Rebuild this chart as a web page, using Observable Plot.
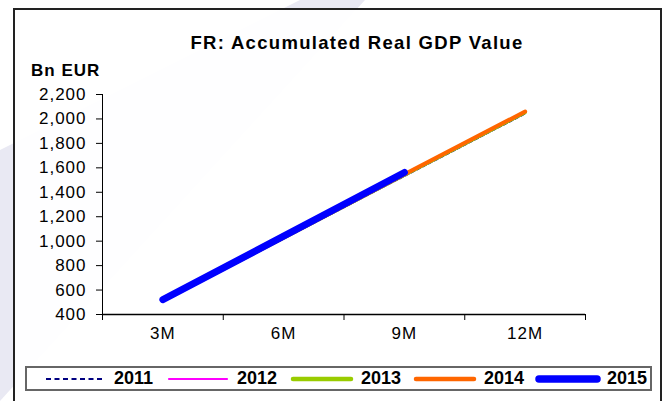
<!DOCTYPE html>
<html>
<head>
<meta charset="utf-8">
<script src="https://cdn.jsdelivr.net/npm/d3@7"></script>
<script src="https://cdn.jsdelivr.net/npm/@observablehq/plot@0.6"></script>
<style>
  html, body { margin: 0; padding: 0; width: 669px; height: 401px; overflow: hidden; background: #ffffff; font-family: "Liberation Sans", Arial, sans-serif; }
  #wm { position: absolute; left: 0; top: 0; width: 669px; height: 401px; background: #e9e9f3;
        clip-path: polygon(300px 0, 365px 0, 0 401px, 0 150px); }
  #frame { position: absolute; left: 13px; top: 8px; width: 649px; height: 400px; border: 2px solid #222; border-bottom: none; background: rgba(255,255,255,0.94); box-sizing: border-box; }
  #title { position: absolute; left: 0; top: 32px; width: 714px; text-align: center; font-weight: bold; font-size: 18.5px; letter-spacing: 1.3px; color: #000; }
  #unit { position: absolute; left: 31px; top: 61px; font-weight: bold; font-size: 17px; letter-spacing: 1px; color: #000; }
  #chart { position: absolute; left: 0; top: 80px; }
  #legend { position: absolute; left: 25px; top: 366px; width: 627px; height: 25px; border: 2px solid #666; box-sizing: border-box; font-weight: bold; font-size: 18px; }
  .item { position: absolute; top: 0; height: 21px; display: flex; align-items: center; }
  .item svg { margin-right: 6px; }
</style>
</head>
<body>
<div id="wm"></div>
<div id="frame"></div>
<div id="title">FR: Accumulated Real GDP Value</div>
<div id="unit">Bn EUR</div>
<div id="chart"></div>
<div id="legend"></div>
<script>
const categories = ["3M", "6M", "9M", "12M"];
const yTicks = [400, 600, 800, 1000, 1200, 1400, 1600, 1800, 2000, 2200];
const years = ["2011", "2012", "2013", "2014", "2015"];
const v2011 = [510, 1020, 1531, 2042];
const v2012 = [512, 1024, 1536, 2049];
const v2013 = [513, 1027, 1541, 2054];
const v2014 = [515, 1031, 1547, 2061];
const v2015 = [521, 1041, 1562];

const values = [v2011, v2012, v2013, v2014, v2015];
const styles = [
  {stroke: "#000080", width: 1.5, dash: "4,2.5", lw: 2.2},
  {stroke: "#ff00ff", width: 1.5, dash: null, lw: 2.2},
  {stroke: "#99cc00", width: 3.5, dash: null, lw: 4.5},
  {stroke: "#ff6600", width: 4, dash: null, lw: 4.5},
  {stroke: "#0000ff", width: 7, dash: null, lw: 7.5}
];

const marks = [];
values.forEach((vals, i) => {
  const data = vals.map((v, j) => ({x: j + 0.5, y: v}));
  marks.push(Plot.line(data, {x: "x", y: "y", stroke: styles[i].stroke, strokeWidth: styles[i].width,
    strokeDasharray: styles[i].dash, strokeLinecap: "round", strokeLinejoin: "round"}));
});

const bounds = d3.range(categories.length + 1);
const centers = categories.map((c, i) => i + 0.5);

const chart = Plot.plot({
  width: 669, height: 280,
  marginLeft: 102, marginRight: 84, marginTop: 14, marginBottom: 46,
  style: {fontFamily: "'Liberation Sans', Arial, sans-serif", fontSize: "17px", letterSpacing: "1px", color: "#000", background: "transparent"},
  x: {domain: [0, categories.length]},
  y: {domain: [400, 2200]},
  marks: [
    ...marks,
    Plot.ruleY([400], {stroke: "#000", strokeWidth: 1.5}),
    Plot.ruleX([0], {stroke: "#000", strokeWidth: 1}),
    Plot.axisY({ticks: yTicks, tickFormat: d3.format(","), tickSize: 6, tickPadding: 10, label: null, stroke: "#000", fontSize: 17}),
    Plot.axisX({ticks: bounds, tickFormat: () => "", tickSize: 6, label: null, stroke: "#000"}),
    Plot.axisX({ticks: centers, tickFormat: (d) => categories[Math.round(d - 0.5)], tickSize: 0, tickPadding: 12, label: null, fontSize: 17})
  ]
});
document.getElementById("chart").appendChild(chart);

const legend = document.getElementById("legend");
const itemLeft = [15, 138, 262, 385, 508];
years.forEach((y, i) => {
  const s = styles[i];
  const item = document.createElement("div");
  item.className = "item";
  item.style.left = itemLeft[i] + "px";
  item.innerHTML = `<svg width="66" height="12"><line x1="4" x2="62" y1="6" y2="6" stroke="${s.stroke}" stroke-width="${s.lw}" stroke-linecap="${s.dash ? 'butt' : 'round'}" ${s.dash ? 'stroke-dasharray="5,3.5"' : ''}/></svg><span>${y}</span>`;
  legend.appendChild(item);
});
</script>
</body>
</html>
